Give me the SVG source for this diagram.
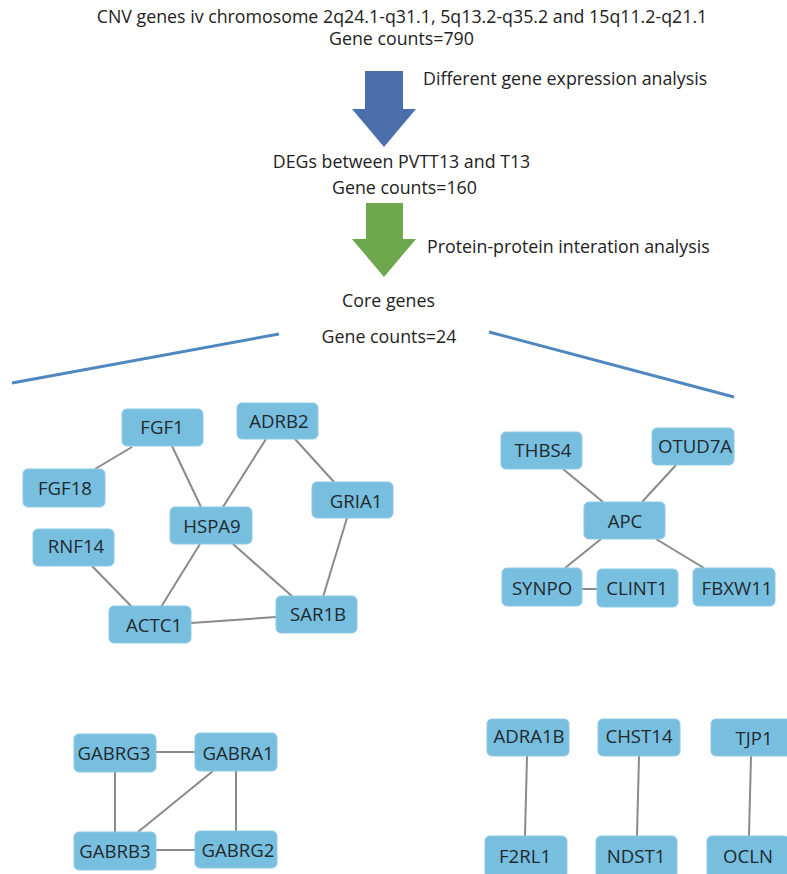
<svg xmlns="http://www.w3.org/2000/svg" width="787" height="874" viewBox="0 0 787 874">
<style>
text{font-family:"Open Sans","Noto Sans","DejaVu Sans",sans-serif;font-size:17.8px;fill:#222;}
.t{text-anchor:middle;}
.n rect{fill:#78bede;stroke:#8ccbe6;stroke-width:1;}
.n text{text-anchor:middle;font-size:18.6px;fill:#1e2a30;}
.e line{stroke:#8a8a8a;stroke-width:2;}
.b{stroke:#4f87c0;stroke-width:3;fill:none;}
</style>
<rect width="787" height="874" fill="#ffffff"/>
<g id="header">
<text class="t" x="402" y="23">CNV genes iv chromosome 2q24.1-q31.1, 5q13.2-q35.2 and 15q11.2-q21.1</text>
<text class="t" x="401.5" y="45">Gene counts=790</text>
<polygon points="365,71 403,71 403,109 416,109 384,147 352,109 365,109" fill="#4a6fab"/>
<text x="423" y="85">Different gene expression analysis</text>
<text class="t" x="401.5" y="168">DEGs between PVTT13 and T13</text>
<text class="t" x="404.5" y="194">Gene counts=160</text>
<polygon points="366,203 403,203 403,239 416,239 384,277 352,239 366,239" fill="#6ea84c"/>
<text x="427" y="253">Protein-protein interation analysis</text>
<text class="t" x="388.5" y="307">Core genes</text>
<text class="t" x="389" y="343">Gene counts=24</text>
<line class="b" x1="12" y1="383" x2="279" y2="334"/>
<line class="b" x1="489" y1="332" x2="734" y2="397"/>
</g>
<g id="connectors" class="e">
<line x1="132" y1="447" x2="95" y2="469"/>
<line x1="172" y1="446" x2="201" y2="507"/>
<line x1="266" y1="439" x2="223" y2="507"/>
<line x1="295" y1="439" x2="334" y2="482"/>
<line x1="347" y1="518" x2="323" y2="597"/>
<line x1="233" y1="544" x2="293" y2="597"/>
<line x1="200" y1="544" x2="161" y2="607"/>
<line x1="92" y1="566" x2="132" y2="607"/>
<line x1="191" y1="623" x2="276" y2="617"/>
<line x1="563" y1="469" x2="603" y2="502"/>
<line x1="676" y1="465" x2="642" y2="502"/>
<line x1="601" y1="539" x2="565" y2="568"/>
<line x1="656" y1="539" x2="704" y2="568"/>
<line x1="582" y1="589" x2="597" y2="589"/>
<line x1="156" y1="752" x2="195" y2="752"/>
<line x1="115" y1="772" x2="115" y2="832"/>
<line x1="213" y1="771" x2="138" y2="832"/>
<line x1="236" y1="771" x2="236" y2="831"/>
<line x1="156" y1="850" x2="195" y2="850"/>
<line x1="527" y1="756" x2="525" y2="836"/>
<line x1="639" y1="756" x2="637" y2="836"/>
<line x1="751" y1="756" x2="749" y2="836"/>
</g>
<g id="FGF1" class="n"><rect x="122" y="409" width="81" height="37" rx="5"/><text x="162" y="434">FGF1</text></g>
<g id="ADRB2" class="n"><rect x="237" y="403" width="81" height="36" rx="5"/><text x="279" y="428">ADRB2</text></g>
<g id="FGF18" class="n"><rect x="23" y="469" width="82" height="38" rx="5"/><text x="65" y="495">FGF18</text></g>
<g id="GRIA1" class="n"><rect x="312" y="482" width="81" height="36" rx="5"/><text x="356" y="508">GRIA1</text></g>
<g id="HSPA9" class="n"><rect x="170" y="507" width="82" height="37" rx="5"/><text x="212" y="533">HSPA9</text></g>
<g id="RNF14" class="n"><rect x="33" y="529" width="81" height="37" rx="5"/><text x="76" y="553">RNF14</text></g>
<g id="ACTC1" class="n"><rect x="109" y="606" width="82" height="37" rx="5"/><text x="154" y="632">ACTC1</text></g>
<g id="SAR1B" class="n"><rect x="276" y="596" width="81" height="37" rx="5"/><text x="318" y="621">SAR1B</text></g>
<g id="THBS4" class="n"><rect x="501" y="432" width="81" height="37" rx="5"/><text x="543" y="457">THBS4</text></g>
<g id="OTUD7A" class="n"><rect x="652" y="428" width="82" height="37" rx="5"/><text x="695" y="453">OTUD7A</text></g>
<g id="APC" class="n"><rect x="584" y="502" width="81" height="37" rx="5"/><text x="625" y="528">APC</text></g>
<g id="SYNPO" class="n"><rect x="502" y="568" width="80" height="38" rx="5"/><text x="542" y="595">SYNPO</text></g>
<g id="CLINT1" class="n"><rect x="597" y="569" width="81" height="38" rx="5"/><text x="637" y="595">CLINT1</text></g>
<g id="FBXW11" class="n"><rect x="693" y="568" width="82" height="38" rx="5"/><text x="737" y="595">FBXW11</text></g>
<g id="GABRG3" class="n"><rect x="74" y="734" width="82" height="38" rx="5"/><text x="114" y="760">GABRG3</text></g>
<g id="GABRA1" class="n"><rect x="195" y="733" width="82" height="38" rx="5"/><text x="238" y="760">GABRA1</text></g>
<g id="GABRB3" class="n"><rect x="74" y="832" width="82" height="38" rx="5"/><text x="115" y="858">GABRB3</text></g>
<g id="GABRG2" class="n"><rect x="195" y="831" width="82" height="37" rx="5"/><text x="238" y="857">GABRG2</text></g>
<g id="ADRA1B" class="n"><rect x="487" y="719" width="82" height="37" rx="5"/><text x="529" y="743">ADRA1B</text></g>
<g id="CHST14" class="n"><rect x="598" y="719" width="82" height="37" rx="5"/><text x="639" y="743">CHST14</text></g>
<g id="TJP1" class="n"><rect x="711" y="719" width="82" height="37" rx="5"/><text x="754" y="745">TJP1</text></g>
<g id="F2RL1" class="n"><rect x="485" y="836" width="82" height="42" rx="5"/><text x="525" y="863">F2RL1</text></g>
<g id="NDST1" class="n"><rect x="596" y="836" width="81" height="42" rx="5"/><text x="636" y="863">NDST1</text></g>
<g id="OCLN" class="n"><rect x="707" y="836" width="82" height="42" rx="5"/><text x="748" y="863">OCLN</text></g>
</svg>
